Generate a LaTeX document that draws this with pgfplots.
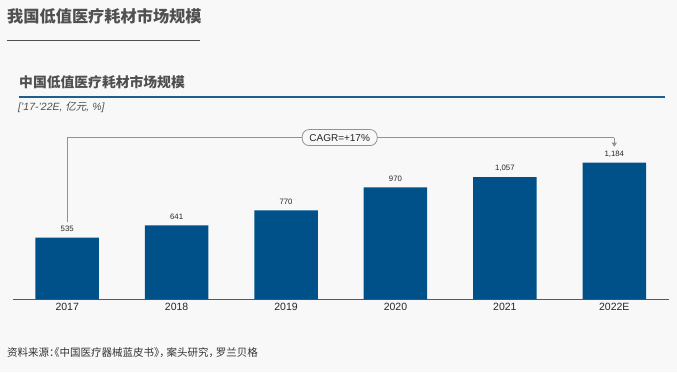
\documentclass[border=0pt]{standalone}
\usepackage{fontspec}
\setmainfont{Liberation Sans}
\newfontfamily\cjk{Noto Sans CJK SC}
\newfontfamily\cjkh[RawFeature=+halt]{Noto Sans CJK SC}
\newfontfamily\cjkit[FakeSlant=0.2]{Noto Sans CJK SC}
\usepackage{pgfplots}
\pgfplotsset{compat=1.18}
\usetikzlibrary{arrows.meta}
\definecolor{bg}{HTML}{F8F8F8}
\definecolor{barc}{HTML}{00518A}
\definecolor{ttl}{HTML}{505050}
\definecolor{rulec}{HTML}{1F5F8F}
\definecolor{cg}{HTML}{8D939A}
\begin{document}
\begin{tikzpicture}[x=1pt,y=1pt]
\fill[bg] (0,0) rectangle (677pt,372pt);
\useasboundingbox (0,0) rectangle (677pt,372pt);
\node[anchor=west, inner sep=0, text=ttl, font=\fontsize{16.2}{17}\selectfont\cjk\bfseries] at (7pt,356pt) {我国低值医疗耗材市场规模};
\draw[ttl, line width=1pt] (7pt,331pt) -- (200pt,331pt);
\node[anchor=west, inner sep=0, text=ttl, font=\fontsize{13.8}{14}\selectfont\cjk\bfseries] at (19pt,290pt) {中国低值医疗耗材市场规模};
\draw[rulec, line width=1.6pt] (19pt,274.8pt) -- (665pt,274.8pt);
\node[anchor=west, inner sep=0, text=ttl, font=\fontsize{10.5}{11}\selectfont\itshape] at (18pt,265pt) {['17-'22E, {\cjkit 亿元}, \%]};
\node[anchor=west, inner sep=0, text=black!80, font=\fontsize{10.5}{11}\selectfont\cjkh] at (7pt,19pt) {资料来源：《中国医疗器械蓝皮书》，\hspace{2pt}案头研究，\hspace{2pt}罗兰贝格};
\begin{axis}[
  at={(12.7pt,72.7pt)}, anchor=south west,
  width=656.3pt, height=162pt, scale only axis,
  xmin=-0.498, xmax=5.5, ymin=0, ymax=1402.6,
  enlargelimits=false, clip=false,
  ybar, bar width=63.5pt, bar shift=0pt,
  axis x line=bottom, axis y line=none,
  axis line style={-, draw=black!65, line width=0.9pt},
  xtick=data, xticklabels={2017,2018,2019,2020,2021,2022E},
  major tick length=0, ytick=\empty,
  xticklabel style={font=\fontsize{10.5}{12}\selectfont, text=black!85},
  nodes near coords,
  nodes near coords style={font=\fontsize{7.8}{8}\selectfont, text=black!85, yshift=2pt,
    /pgf/number format/assume math mode=true, /pgf/number format/1000 sep={,}},
]
\addplot[fill=barc, draw=none] coordinates {(0,535) (1,641) (2,770) (3,970) (4,1057) (5,1184)};
\draw[cg, line width=0.8pt] (axis cs:0,672) -- (axis cs:0,1400) -- (axis cs:5,1400);
\draw[cg, line width=0.8pt, -{Triangle[length=4pt,width=5pt]}] (axis cs:5,1400) -- (axis cs:5,1321);
\node[draw=cg, fill=bg, rounded corners=7pt, line width=0.8pt, minimum width=75pt, minimum height=16pt, inner sep=0, font=\fontsize{10}{12}\selectfont, text=black!85] at (axis cs:2.49,1400) {CAGR=+17\%};
\end{axis}
\end{tikzpicture}
\end{document}
